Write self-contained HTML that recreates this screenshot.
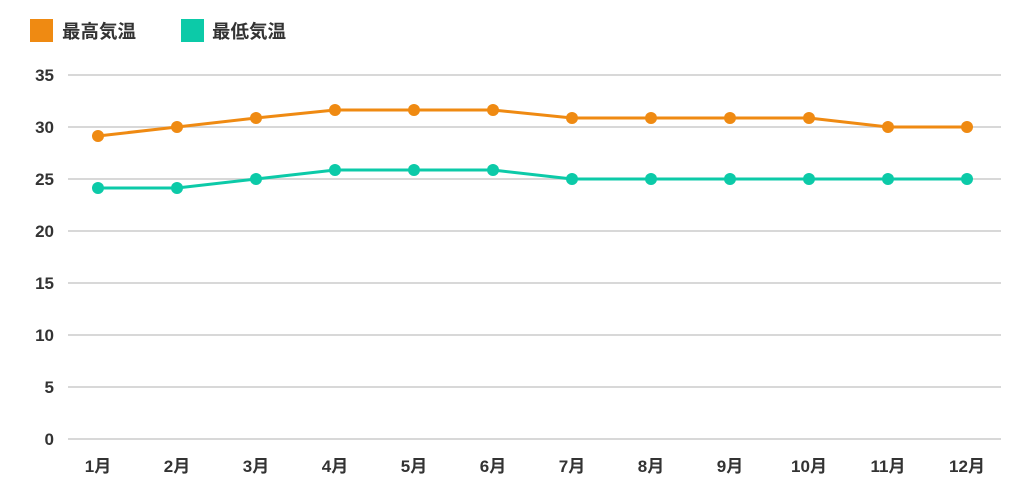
<!DOCTYPE html><html><head><meta charset="utf-8"><style>body{margin:0;background:#fff}svg text{font-family:"Liberation Sans","Noto Sans CJK JP",sans-serif;font-weight:bold;fill:#333}</style></head><body>
<svg width="1032" height="493" viewBox="0 0 1032 493" xmlns="http://www.w3.org/2000/svg">
<rect x="30" y="19" width="23" height="23" fill="#ef8a12"/><text x="62" y="38" font-size="18.5">最高気温</text>
<rect x="181" y="19" width="23" height="23" fill="#0ccaa8"/><text x="212" y="38" font-size="18.5">最低気温</text>
<g stroke="#cccccc" stroke-width="1.5">
<line x1="68" x2="1001" y1="75" y2="75"/><line x1="68" x2="1001" y1="127" y2="127"/><line x1="68" x2="1001" y1="179" y2="179"/><line x1="68" x2="1001" y1="231" y2="231"/><line x1="68" x2="1001" y1="283" y2="283"/><line x1="68" x2="1001" y1="335" y2="335"/><line x1="68" x2="1001" y1="387" y2="387"/><line x1="68" x2="1001" y1="439" y2="439"/></g>
<g font-size="17" text-anchor="end">
<text x="54" y="81">35</text><text x="54" y="133">30</text><text x="54" y="185">25</text><text x="54" y="237">20</text><text x="54" y="289">15</text><text x="54" y="341">10</text><text x="54" y="393">5</text><text x="54" y="445">0</text></g>
<g font-size="17" text-anchor="middle">
<text x="98" y="472">1月</text><text x="177" y="472">2月</text><text x="256" y="472">3月</text><text x="335" y="472">4月</text><text x="414" y="472">5月</text><text x="493" y="472">6月</text><text x="572" y="472">7月</text><text x="651" y="472">8月</text><text x="730" y="472">9月</text><text x="809" y="472">10月</text><text x="888" y="472">11月</text><text x="967" y="472">12月</text></g>
<polyline fill="none" stroke="#ef8a12" stroke-width="3" points="98,136 177,127 256,118 335,110 414,110 493,110 572,118 651,118 730,118 809,118 888,127 967,127"/>
<g fill="#ef8a12"><circle cx="98" cy="136" r="6"/><circle cx="177" cy="127" r="6"/><circle cx="256" cy="118" r="6"/><circle cx="335" cy="110" r="6"/><circle cx="414" cy="110" r="6"/><circle cx="493" cy="110" r="6"/><circle cx="572" cy="118" r="6"/><circle cx="651" cy="118" r="6"/><circle cx="730" cy="118" r="6"/><circle cx="809" cy="118" r="6"/><circle cx="888" cy="127" r="6"/><circle cx="967" cy="127" r="6"/></g>
<polyline fill="none" stroke="#0ccaa8" stroke-width="3" points="98,188 177,188 256,179 335,170 414,170 493,170 572,179 651,179 730,179 809,179 888,179 967,179"/>
<g fill="#0ccaa8"><circle cx="98" cy="188" r="6"/><circle cx="177" cy="188" r="6"/><circle cx="256" cy="179" r="6"/><circle cx="335" cy="170" r="6"/><circle cx="414" cy="170" r="6"/><circle cx="493" cy="170" r="6"/><circle cx="572" cy="179" r="6"/><circle cx="651" cy="179" r="6"/><circle cx="730" cy="179" r="6"/><circle cx="809" cy="179" r="6"/><circle cx="888" cy="179" r="6"/><circle cx="967" cy="179" r="6"/></g>
</svg></body></html>
